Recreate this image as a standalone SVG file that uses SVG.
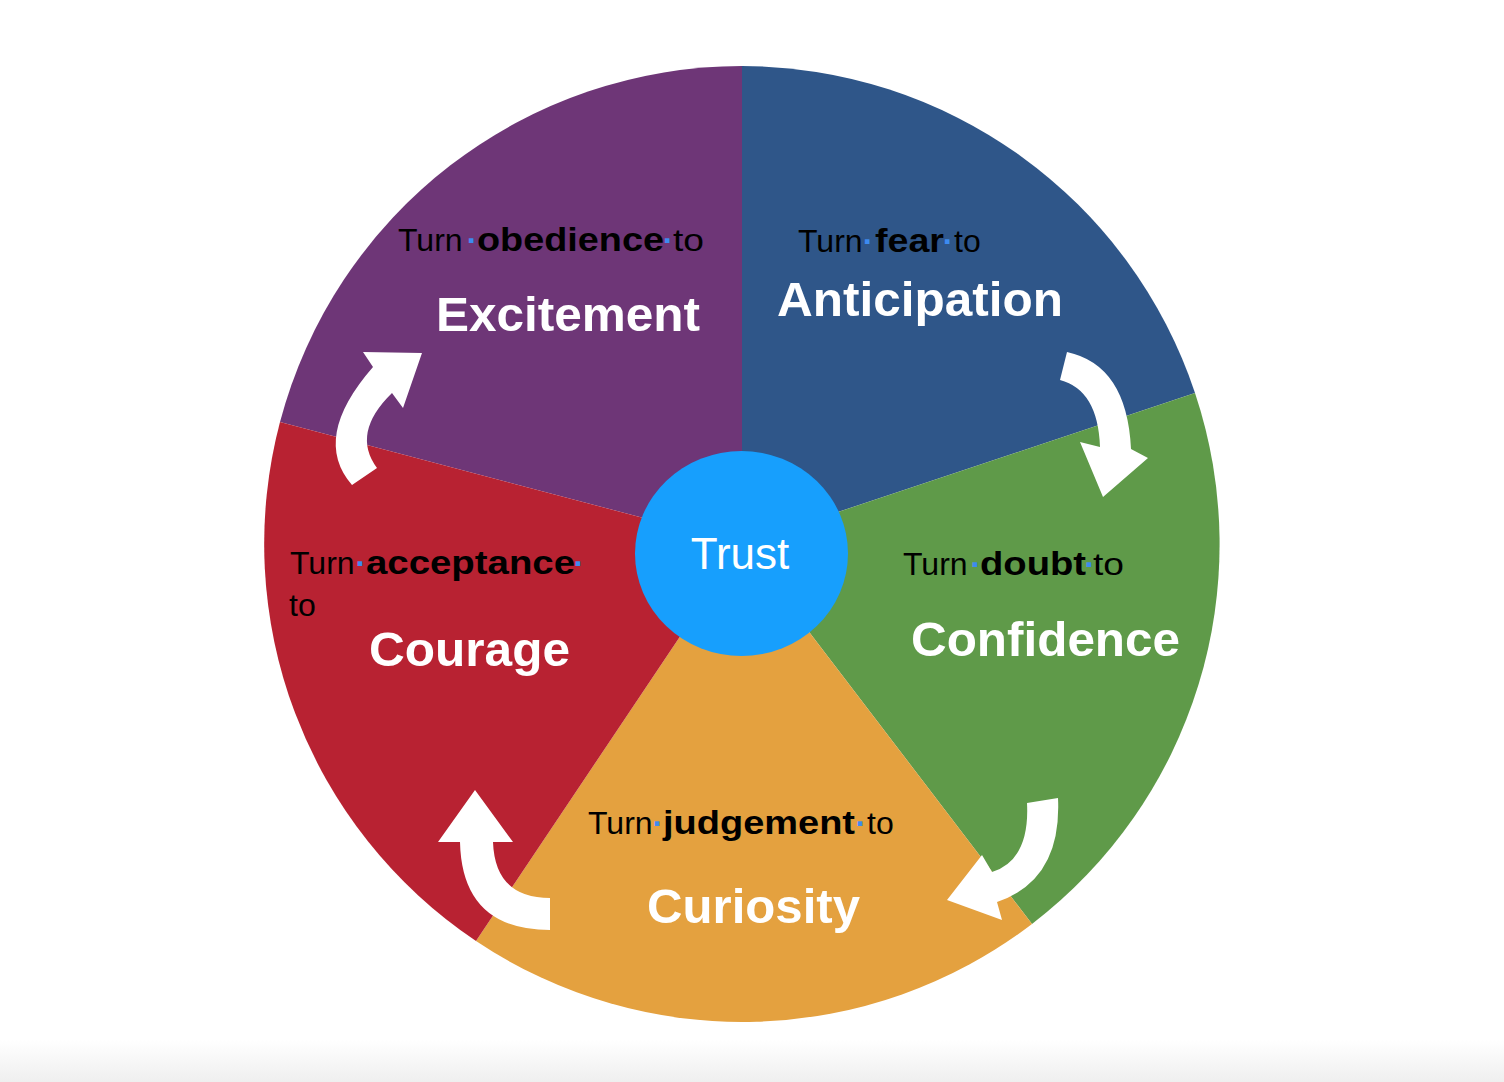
<svg xmlns="http://www.w3.org/2000/svg" width="1504" height="1082" viewBox="0 0 1504 1082">
<defs>
<linearGradient id="floor" x1="0" y1="0" x2="0" y2="1">
<stop offset="0" stop-color="#ffffff"/>
<stop offset="1" stop-color="#efefef"/>
</linearGradient>
</defs>
<style>
.t{font-family:"Liberation Sans",Arial,Helvetica,sans-serif;font-size:32px;fill:#000}
.b{font-weight:bold;font-size:33px}
.d{fill:#3d8bf0;font-weight:bold}
.big{font-family:"Liberation Sans",Arial,Helvetica,sans-serif;font-size:48px;font-weight:bold;fill:#fff}
.arrow{fill:#fff}
</style>
<rect width="1504" height="1082" fill="#fff"/>
<rect y="1040" width="1504" height="42" fill="url(#floor)"/>

<g id="excitement">
<path d="M742,544 L280,422 A478,478 0 0 1 742,66 Z" fill="#6E3677"/>
<text class="t" y="251"><tspan x="398">Turn</tspan><tspan class="d" x="466.7">·</tspan><tspan class="b" x="477" textLength="187" lengthAdjust="spacingAndGlyphs">obedience</tspan><tspan class="d" x="662.7">·</tspan><tspan x="673" textLength="31" lengthAdjust="spacingAndGlyphs">to</tspan></text>
<text class="big" x="436" y="331" textLength="264" lengthAdjust="spacingAndGlyphs">Excitement</text>
</g>

<g id="anticipation">
<path d="M742,544 L742,66 A478,478 0 0 1 1195,393 Z" fill="#2F5689"/>
<text class="t" y="252"><tspan x="798">Turn</tspan><tspan class="d" x="862.7">·</tspan><tspan class="b" x="875" textLength="69" lengthAdjust="spacingAndGlyphs">fear</tspan><tspan class="d" x="942.7">·</tspan><tspan x="954">to</tspan></text>
<text class="big" x="777" y="316" textLength="286" lengthAdjust="spacingAndGlyphs">Anticipation</text>
</g>

<g id="confidence">
<path d="M742,544 L1195,393 A478,478 0 0 1 1032,924 Z" fill="#5F9A49"/>
<text class="t" y="575"><tspan x="903">Turn</tspan><tspan class="d" x="970.5">·</tspan><tspan class="b" x="980" textLength="106" lengthAdjust="spacingAndGlyphs">doubt</tspan><tspan class="d" x="1084.5">·</tspan><tspan x="1093" textLength="31" lengthAdjust="spacingAndGlyphs">to</tspan></text>
<text class="big" x="911" y="656" textLength="269" lengthAdjust="spacingAndGlyphs">Confidence</text>
</g>

<g id="curiosity">
<path d="M742,544 L1032,924 A478,478 0 0 1 476,941 Z" fill="#E4A13F"/>
<text class="t" y="834"><tspan x="588">Turn</tspan><tspan class="d" x="652.5">·</tspan><tspan class="b" x="663" textLength="192" lengthAdjust="spacingAndGlyphs">judgement</tspan><tspan class="d" x="855.5">·</tspan><tspan x="867">to</tspan></text>
<text class="big" x="647" y="923" textLength="213" lengthAdjust="spacingAndGlyphs">Curiosity</text>
</g>

<g id="courage">
<path d="M742,544 L476,941 A478,478 0 0 1 280,422 Z" fill="#B82232"/>
<text class="t" y="574"><tspan x="290">Turn</tspan><tspan class="d" x="355.5">·</tspan><tspan class="b" x="366" textLength="209" lengthAdjust="spacingAndGlyphs">acceptance</tspan><tspan class="d" x="573.5">·</tspan></text>
<text class="t" x="289" y="616">to</text>
<text class="big" x="369" y="666" textLength="201" lengthAdjust="spacingAndGlyphs">Courage</text>
</g>

<g id="trust">
<ellipse cx="741.5" cy="553.5" rx="106.5" ry="102.5" fill="#179FFD"/>
<text x="740" y="569" text-anchor="middle" style="font-family:'Liberation Sans',Arial,Helvetica,sans-serif;font-size:44px;fill:#fff">Trust</text>
</g>

<g id="connectors">
<path class="arrow" d="M352,485 Q311,438 373,367 L363,352 L422,353 L403,408 L392,393 Q351,433 377,468 Z"/>
<path class="arrow" d="M1067,352 Q1127,365 1131,449 L1148,458 L1103,497 L1080,442 L1100,447 Q1098,390 1060,380 Z"/>
<path class="arrow" d="M1027,803 L1058,798 Q1062,880 997,902 L1002,920 L947,900 L982,855 L992,872 Q1030,860 1027,803 Z"/>
<path class="arrow" d="M475,790 L513,842 L493,842 Q495,898 550,898 L550,930 Q462,930 460,842 L438,842 Z"/>
</g>
</svg>
